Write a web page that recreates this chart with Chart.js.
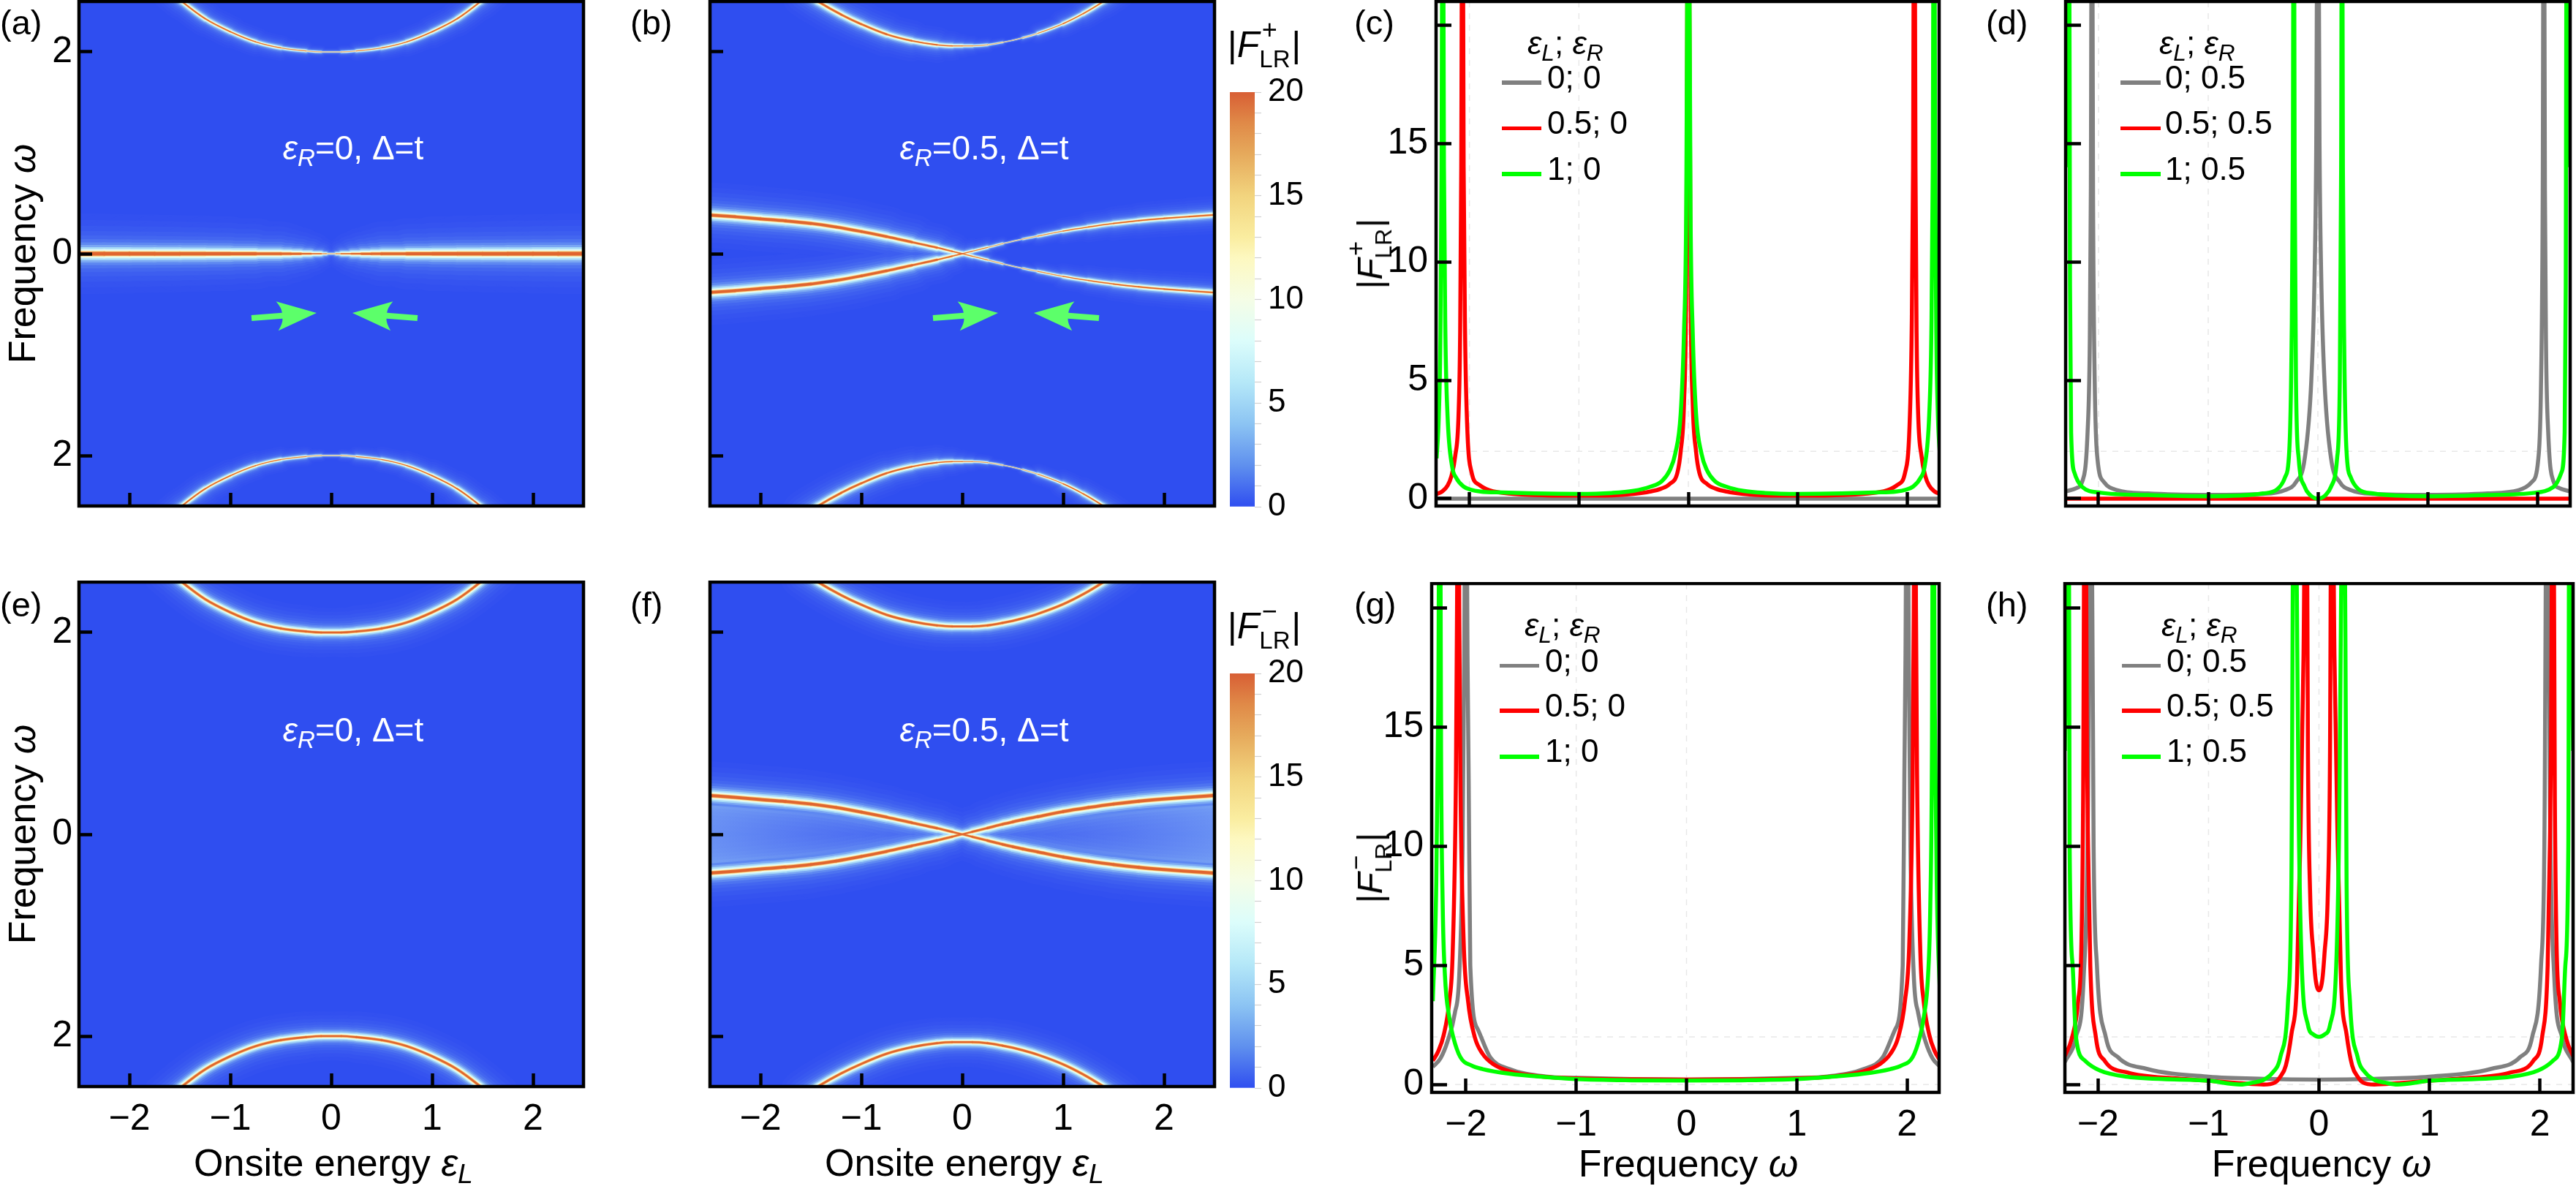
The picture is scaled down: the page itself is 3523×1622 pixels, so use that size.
<!DOCTYPE html>
<html><head><meta charset="utf-8">
<script src="https://cdn.jsdelivr.net/npm/chart.js@4"></script>
<style>
html,body{margin:0;padding:0;background:#fff;width:3523px;height:1622px;overflow:hidden}
body{font-family:"Liberation Sans",Arial,sans-serif;color:#000;position:relative}
canvas{position:absolute}
.t{position:absolute;white-space:nowrap;line-height:1;transform:translate(-50%,-50%)}
.l{position:absolute;white-space:nowrap;line-height:1;transform:translateY(-50%)}
.r{position:absolute;white-space:nowrap;line-height:1;transform:translate(-50%,-50%) rotate(-90deg)}
sub{font-size:.72em;line-height:0;vertical-align:-.28em}
.ss{display:inline-block;position:relative;width:.88em;height:1em;vertical-align:baseline}
.ss b{font-weight:normal;position:absolute;line-height:1}
.ss .u{top:-.15em;font-size:.72em;left:.1em}
.ss .d{top:1.1em;font-size:.66em;left:0}
.sw{position:absolute;height:5.5px}
</style></head><body>
<script>
// ---------- tick lists
const heatXTicks=[-2,-1,0,1,2];
const heatYTicks=[-2,0,2];
const lineXTicks=[-2,-1,0,1,2];
const lineYTicks=[0,5,10,15,20];
const cbTicks=[0,1,2,3,4,5,6,7,8,9,10,11,12,13,14,15,16,17,18,19,20];

// ---------- heat-map ridges (a),(b),(e),(f): energy, frequency, ridge strength
const zeroX=[-2.5,-2.25,-2,-1.75,-1.5,-1.25,-1,-.75,-.5,-.4,-.3,-.2,-.1,-.05,0,.05,.1,.2,.3,.4,.5,.75,1,1.25,1.5,1.75,2,2.25,2.5];
const zeroY=[0,0,0,0,0,0,0,0,0,0,0,0,0,0,0,0,0,0,0,0,0,0,0,0,0,0,0,0,0];
const zeroS=[1,1,.98,.96,.94,.92,.88,.8,.68,.6,.5,.36,.2,.1,.03,.1,.2,.36,.5,.6,.68,.8,.88,.92,.94,.96,.98,1,1];
const arcX=[-1.62,-1.48,-1.25,-1,-.75,-.5,-.25,-.1,0,.1,.25,.5,.75,1,1.25,1.48,1.62];
const arcTop=[2.62,2.5,2.33,2.2,2.1,2.04,2.01,2,2,2,2.01,2.04,2.1,2.2,2.33,2.5,2.62];
const arcBot=[-2.62,-2.5,-2.33,-2.2,-2.1,-2.04,-2.01,-2,-2,-2,-2.01,-2.04,-2.1,-2.2,-2.33,-2.5,-2.62];
const arcSa=[.36,.34,.3,.26,.22,.17,.1,.05,.02,.05,.1,.17,.22,.26,.3,.34,.36];
const arcSe=[.55,.55,.55,.55,.55,.55,.52,.5,.5,.5,.52,.55,.55,.55,.55,.55,.55];

const crossX=[-2.5,-2.25,-2,-1.75,-1.5,-1.25,-1,-.75,-.5,-.25,-.1,0,.1,.25,.4,.5,.6,.75,1,1.25,1.5,1.75,2,2.25,2.5];
const crossDown=[.384,.366,.345,.325,.3,.265,.22,.17,.115,.06,.024,0,-.025,-.062,-.1,-.123,-.145,-.175,-.225,-.265,-.3,-.328,-.35,-.368,-.385];
const crossUp=[-.384,-.366,-.345,-.325,-.3,-.265,-.22,-.17,-.115,-.06,-.024,0,.025,.062,.1,.123,.145,.175,.225,.265,.3,.328,.35,.368,.385];
const crossSb=[.75,.75,.74,.73,.72,.71,.7,.65,.55,.4,.3,.22,.18,.13,.05,.01,.05,.1,.18,.23,.28,.31,.33,.34,.35];
const crossSf=[.8,.8,.8,.8,.78,.76,.74,.7,.65,.58,.5,.4,.5,.58,.65,.68,.7,.72,.74,.76,.78,.8,.8,.8,.8];
const arcBX=[-1.55,-1.43,-1.2,-1,-.75,-.5,-.25,-.1,0,.1,.25,.4,.5,.6,.75,1,1.2,1.4,1.55];
const arcBTop=[2.58,2.5,2.37,2.275,2.175,2.11,2.07,2.06,2.06,2.06,2.07,2.095,2.115,2.14,2.185,2.28,2.38,2.5,2.6];
const arcBBot=[-2.58,-2.5,-2.37,-2.275,-2.175,-2.11,-2.07,-2.06,-2.06,-2.06,-2.07,-2.095,-2.115,-2.14,-2.185,-2.28,-2.38,-2.5,-2.6];
const arcSb=[.5,.5,.48,.46,.42,.36,.28,.2,.16,.12,.08,.03,.01,.04,.1,.2,.26,.3,.32];
const arcSf=[.55,.55,.55,.55,.55,.55,.52,.5,.5,.5,.52,.55,.55,.55,.55,.55,.55,.55,.55];

// ---------- line panels
const zeroLineX=[-2.3,0,2.3];
const zeroLineY=[0,0,0];

const cRedX=[-2.3,-2.25,-2.2,-2.165,-2.13,-2.1,-2.085,-2.075,-2.064,-2.053,-2.04,-2.02,-1.98,-1.91,-1.82,-1.6,-1.3,-1,-.7,-.5,-.35,-.25,-.17,-.1,-.07,-.04,-.02,0,.02,.04,.07,.1,.17,.25,.35,.5,.7,1,1.3,1.6,1.82,1.91,1.98,2.02,2.04,2.053,2.064,2.075,2.085,2.1,2.13,2.165,2.2,2.25,2.3];
const cRedY=[.2,.3,.55,.95,1.8,3.5,7,14,30,14,7,3,1.1,.58,.36,.2,.14,.13,.14,.2,.3,.42,.62,1.1,2,4,9,30,9,4,2,1.1,.62,.42,.3,.2,.14,.13,.14,.2,.36,.58,1.1,3,7,14,30,14,7,3.5,1.8,.95,.55,.3,.2];
const cGreenX=[-2.3,-2.28,-2.265,-2.255,-2.244,-2.233,-2.22,-2.2,-2.16,-2.12,-2.05,-1.99,-1.9,-1.7,-1.4,-1,-.7,-.5,-.35,-.24,-.17,-.12,-.07,-.04,-.02,0,.02,.04,.07,.12,.17,.24,.35,.5,.7,1,1.4,1.7,1.9,1.99,2.05,2.12,2.16,2.2,2.22,2.233,2.244,2.255,2.265,2.28,2.3];
const cGreenY=[1.7,3.5,7,14,30,14,7,3.5,1.4,.87,.5,.38,.3,.26,.22,.2,.24,.33,.5,.75,1.2,1.9,3.6,7,12,30,12,7,3.6,1.9,1.2,.75,.5,.33,.24,.2,.22,.26,.3,.38,.5,.87,1.4,3.5,7,14,30,14,7,3.5,1.7];

const dGrayX=[-2.3,-2.2,-2.15,-2.1,-2.08,-2.07,-2.06,-2.05,-2.035,-2.01,-1.95,-1.83,-1.55,-1,-.5,-.3,-.2,-.12,-.06,-.03,-.015,0,.015,.03,.06,.12,.2,.3,.5,1,1.55,1.83,1.95,2.01,2.035,2.05,2.06,2.07,2.08,2.1,2.15,2.2,2.3];
const dGrayY=[.3,.45,.7,2.8,6.5,13,30,13,5,1.7,.7,.36,.22,.16,.2,.36,.7,1.7,5,9.5,15,30,15,9.5,5,1.7,.7,.36,.2,.16,.22,.36,.7,1.7,5,13,30,13,6.5,2.8,.7,.45,.3];
const dGreenX=[-2.3,-2.285,-2.27,-2.26,-2.25,-2.22,-2.15,-1.98,-1.55,-1,-.5,-.37,-.3,-.26,-.24,-.228,-.22,-.212,-.2,-.175,-.12,-.07,0,.07,.12,.175,.2,.212,.22,.228,.24,.26,.3,.37,.5,1,1.55,1.98,2.15,2.22,2.25,2.26,2.27,2.285,2.3];
const dGreenY=[14,22,30,9,2.8,1.1,.5,.25,.15,.1,.22,.4,.9,2.1,6.5,14,30,14,5,1.7,.5,.15,0,.15,.5,1.7,5,14,30,14,6.5,2.1,.9,.4,.22,.1,.15,.25,.5,1.1,2.8,9,30,22,14];

const gGrayX=[-2.3,-2.23,-2.167,-2.1,-2.06,-2.03,-2.015,-2,-1.985,-1.975,-1.96,-1.89,-1.78,-1.61,-1.26,-1,-.5,0,.5,1,1.26,1.61,1.78,1.89,1.96,1.975,1.985,2,2.015,2.03,2.06,2.1,2.167,2.23,2.3];
const gGrayY=[.74,1.1,1.8,3,4.6,10,18,30,18,13,5,2.3,1.15,.66,.33,.28,.23,.21,.23,.28,.33,.66,1.15,2.3,5,13,18,30,18,10,4.6,3,1.8,1.1,.74];
const gRedX=[-2.3,-2.25,-2.2,-2.15,-2.12,-2.09,-2.08,-2.07,-2.06,-2.05,-2.02,-1.98,-1.92,-1.85,-1.75,-1.6,-1.3,-1,-.5,0,.5,1,1.3,1.6,1.75,1.85,1.92,1.98,2.02,2.05,2.06,2.07,2.08,2.09,2.12,2.15,2.2,2.25,2.3];
const gRedY=[1,1.4,2.1,3.5,5.5,13,20,30,20,13,6,3.5,2,1.3,.85,.55,.33,.26,.22,.21,.22,.26,.33,.55,.85,1.3,2,3.5,6,13,20,30,20,13,5.5,3.5,2.1,1.4,1];
const gGreenX=[-2.3,-2.27,-2.25,-2.236,-2.225,-2.21,-2.19,-2.15,-2.115,-2.05,-1.95,-1.85,-1.6,-1.3,-1,-.5,0,.5,1,1.3,1.6,1.85,1.95,2.05,2.115,2.15,2.19,2.21,2.225,2.236,2.25,2.27,2.3];
const gGreenY=[3.5,8,16,30,14,7.5,4.6,2.8,2,1.15,.8,.65,.45,.32,.23,.18,.17,.18,.23,.32,.45,.65,.8,1.15,2,2.8,4.6,7.5,14,30,16,8,3.5];

const hGrayX=[-2.3,-2.2,-2.13,-2.09,-2.066,-2.04,-2.01,-1.93,-1.82,-1.56,-1,-.5,0,.5,1,1.56,1.82,1.93,2.01,2.04,2.066,2.09,2.13,2.2,2.3];
const hGrayY=[.95,2,4.5,12,30,10,5,2,1.15,.66,.33,.24,.21,.24,.33,.66,1.15,2,5,10,30,12,4.5,2,.95];
const hRedX=[-2.3,-2.24,-2.18,-2.15,-2.135,-2.118,-2.1,-2.09,-2.07,-2.02,-1.94,-1.73,-1.28,-1,-.7,-.5,-.4,-.35,-.3,-.25,-.2,-.17,-.14,-.115,-.1,-.08,-.05,-.03,0,.03,.05,.08,.1,.115,.14,.17,.2,.25,.3,.35,.4,.5,.7,1,1.28,1.73,1.94,2.02,2.07,2.09,2.1,2.118,2.135,2.15,2.18,2.24,2.3];
const hRedY=[1.2,1.9,3.5,6,12,30,14,10,5,2,1,.5,.25,.16,.05,0,.08,.33,.8,2.1,4.3,10,18,30,14,8,5.5,4.4,3.95,4.4,5.5,8,14,30,18,10,4.3,2.1,.8,.33,.08,0,.05,.16,.25,.5,1,2,5,10,14,30,12,6,3.5,1.9,1.2];
const hGreenX=[-2.3,-2.285,-2.267,-2.257,-2.23,-2.2,-2.118,-1.98,-1.74,-1,-.71,-.6,-.5,-.42,-.35,-.28,-.25,-.225,-.18,-.156,-.1,-.05,0,.05,.1,.156,.18,.225,.25,.28,.35,.42,.5,.6,.71,1,1.74,1.98,2.118,2.2,2.23,2.257,2.267,2.285,2.3];
const hGreenY=[14,20,30,10,5,2,1,.58,.33,.16,0,.08,.2,.5,1.15,3.5,8.4,30,10,5,2.5,2.1,2,2.1,2.5,5,10,30,8.4,3.5,1.15,.5,.2,.08,0,.16,.33,.58,1,2,5,10,30,20,14];

// ---------- arrows (frequency and energy values of panels a, b), gridline values, colour bar
const arrowsA=[[-.79,-.638,-.145,-.587],[.855,-.638,.21,-.587]];
const arrowsB=[[-.29,-.638,.355,-.587],[1.355,-.638,.71,-.587]];
const gridXTop=[-2,-1,0]; const gridYTop=[2];
const gridXBot=[-1,0];    const gridYBot=[0,2];
const cbStopValues=[0,2,4,6,8,10,12,13,15,17,18.5,20];
const cbStopColors=['#2f4ef0','#5f90ee','#8cc4f3','#b5e8f8','#dcfdfb','#f5fde6','#fdf8c0','#faeda0','#f2d47e','#e6aa5c','#e08a48','#d85f35'];
const cbRange=[[0,20]];

// ---------- styling of a ridge: outer to inner halo width, colour, growth exponent
const HALO=[[110,'#3250f0',.7],[92,'#3553f0',.7],[76,'#3858f0',.7],[62,'#3d5ef0',.7],[50,'#4366f0',.7],[40,'#4d73f0',.7],[31,'#5e88f1',.7],[24,'#7ba8f3',.7],[18,'#a5d8f7',.7],[13,'#d8f8fa',.7],[9,'#fdf9cf',.8],[6.8,'#f2c070',.9],[5,'#e0652f',1]];
const LENS_AFTER=6;
const FONT='"Liberation Sans",Arial,sans-serif';
Chart.defaults.font.family=FONT;
Chart.defaults.color='#000';

const zip=(x,y)=>x.map((v,i)=>({x:v,y:y[i]}));

function baseScale(o){
  return {
    type:'linear',min:o.min,max:o.max,
    afterBuildTicks:s=>{s.ticks=o.ticks.map(v=>({value:v}));},
    afterFit:s=>{ if(o.axis==='x') s.height=o.size; else s.width=o.size;
      s.paddingTop=0;s.paddingBottom=0;s.paddingLeft=0;s.paddingRight=0; },
    border:{display:false},
    grid:{drawOnChartArea:false,drawTicks:true,tickLength:-o.tick,tickWidth:4.5,tickColor:'#000',z:2},
    ticks:{autoSkip:false,maxRotation:0,minRotation:0,padding:o.tick+o.gap,font:{size:50,family:FONT},color:'#000',callback:o.label}
  };
}
const signed=v=>v<0?'\u2212'+Math.abs(v):''+v;
const none=()=>'';

function makeChart(rect,cfg){
  const ML=104,MB=76,MT=2,MR=8;
  const cv=document.createElement('canvas');
  const w=rect.r-rect.l+ML+MR,h=rect.b-rect.t+MT+MB;
  cv.width=w;cv.height=h;
  cv.style.cssText=`left:${rect.l-ML}px;top:${rect.t-MT}px;width:${w}px;height:${h}px`;
  document.body.appendChild(cv);
  const plugin={id:'panel',
    beforeDraw(c){ if(cfg.bg){const a=c.chartArea;c.ctx.save();c.ctx.fillStyle=cfg.bg;c.ctx.fillRect(a.left,a.top,a.width,a.height);c.ctx.restore();} },
    beforeDatasetsDraw(c){
      if(!cfg.gridX) return;
      const a=c.chartArea,g=c.ctx;g.save();g.strokeStyle='#e8e8e8';g.lineWidth=1.5;g.setLineDash([8,8]);
      cfg.gridX.forEach(v=>{const p=c.scales.x.getPixelForValue(v);g.beginPath();g.moveTo(p,a.top);g.lineTo(p,a.bottom);g.stroke();});
      cfg.gridY.forEach(v=>{const p=c.scales.y.getPixelForValue(v);g.beginPath();g.moveTo(a.left,p);g.lineTo(a.right,p);g.stroke();});
      g.restore();
    },
    afterDatasetsDraw(c){
      const g=c.ctx;
      (cfg.arrows||[]).forEach(ar=>{
        const x0=c.scales.x.getPixelForValue(ar[0]),y0=c.scales.y.getPixelForValue(ar[1]);
        const x1=c.scales.x.getPixelForValue(ar[2]),y1=c.scales.y.getPixelForValue(ar[3]);
        const L=Math.hypot(x1-x0,y1-y0);
        g.save();g.translate(x1,y1);g.rotate(Math.atan2(y1-y0,x1-x0));
        g.fillStyle='#5cff6a';g.beginPath();g.moveTo(0,0);g.lineTo(-54,-20);g.quadraticCurveTo(-47,-10,-47,-4);
        g.lineTo(-L,-4);g.lineTo(-L,4);g.lineTo(-47,4);g.quadraticCurveTo(-47,10,-54,20);g.closePath();g.fill();g.restore();
      });
    },
    afterDraw(c){
      const a=c.chartArea,g=c.ctx;g.save();g.strokeStyle='#000';g.lineWidth=cfg.frame||4.5;
      g.strokeRect(a.left,a.top,a.width,a.height);g.restore();
    }
  };
  new Chart(cv,{type:'line',
    data:{datasets:cfg.datasets},
    plugins:[plugin],
    options:{responsive:false,animation:false,devicePixelRatio:1,
      layout:{padding:{top:MT,right:MR,left:0,bottom:0}},
      plugins:{legend:{display:false},tooltip:{enabled:false}},
      elements:{point:{radius:0}},
      scales:{
        x:baseScale({axis:'x',size:MB,min:cfg.xr[0],max:cfg.xr[1],ticks:cfg.xt,tick:cfg.tx,gap:cfg.gx,label:cfg.xl}),
        y:baseScale({axis:'y',size:ML,min:cfg.yr[0],max:cfg.yr[1],ticks:cfg.yt,tick:cfg.ty,gap:cfg.gy,label:cfg.yl})
      }}});
}

// Chart.js paints dataset 0 last, so halos are listed inner-first
function heatSets(ridges,lens){
  const out=[];
  HALO.slice().reverse().forEach(([wd,col,ex],idx)=>{
    if(lens && idx===LENS_AFTER+1){
      // pale area enclosed by the two crossing branches: above the dim halos, beneath the bright ones
      out.push({data:zip(lens[0],lens[1]),borderWidth:0,pointRadius:0,fill:'+1',cubicInterpolationMode:'monotone',
        backgroundColor:ctx=>{
          const c=ctx.chart,a=c.chartArea; if(!a) return 'rgba(130,170,245,.3)';
          const g=c.ctx.createLinearGradient(a.left,0,a.right,0);
          g.addColorStop(0,'rgba(140,185,246,.62)');g.addColorStop(.3,'rgba(130,170,245,.3)');
          g.addColorStop(.47,'rgba(130,170,245,.05)');g.addColorStop(.53,'rgba(130,170,245,.05)');
          g.addColorStop(.7,'rgba(130,170,245,.3)');g.addColorStop(1,'rgba(140,185,246,.62)');
          return g;
        }});
      out.push({data:zip(lens[0],lens[2]),borderWidth:0,pointRadius:0,fill:false,cubicInterpolationMode:'monotone'});
    }
    ridges.forEach(([x,y,s])=>{
      out.push({data:zip(x,y),borderColor:col,borderWidth:wd,pointRadius:0,
        clip:{left:0,top:0,right:0,bottom:0},
        cubicInterpolationMode:'monotone',borderCapStyle:'round',borderJoinStyle:'round',
        segment:{borderWidth:ctx=>{
          const a=s[ctx.p0DataIndex],b=s[ctx.p1DataIndex];
          return Math.max(.35,wd*Math.pow((a+b)/2,ex));
        }}});
    });
  });
  return out;
}
function lineSet(x,y,col){
  return {data:zip(x,y),borderColor:col,borderWidth:5.5,pointRadius:0,clip:0,cubicInterpolationMode:'monotone'};
}
const GRAY='#808080',RED='#ff0000',GREEN='#00ff00';

const heat=(rect,ridges,xl,yl,arrows,lens)=>makeChart(rect,{bg:'#2f4ef0',datasets:heatSets(ridges,lens),
  xr:[-2.5,2.5],yr:[-2.5,2.5],xt:heatXTicks,yt:heatYTicks,tx:18,ty:18,gx:15,gy:9,xl,yl,arrows});
const line=(rect,sets,xr,yr,xl,yl,gridX,gridY)=>makeChart(rect,{datasets:sets.slice().reverse(),xr,yr,xt:lineXTicks,yt:lineYTicks,
  tx:19,ty:21,gx:15,gy:11,xl,yl,gridX,gridY});
const absLab=v=>''+Math.abs(v);
const yLineLab=v=>v===20?'':''+v;

heat({l:108,r:798,t:2,b:692},[[zeroX,zeroY,zeroS],[arcX,arcTop,arcSa],[arcX,arcBot,arcSa]],none,absLab,arrowsA);
heat({l:971,r:1661,t:2,b:692},[[crossX,crossDown,crossSb],[crossX,crossUp,crossSb],[arcBX,arcBTop,arcSb],[arcBX,arcBBot,arcSb]],none,none,arrowsB);
heat({l:108,r:798,t:796,b:1486},[[arcX,arcTop,arcSe],[arcX,arcBot,arcSe]],signed,absLab);
heat({l:971,r:1661,t:796,b:1486},[[crossX,crossDown,crossSf],[crossX,crossUp,crossSf],[arcBX,arcBTop,arcSf],[arcBX,arcBBot,arcSf]],signed,none,undefined,[crossX,crossDown,crossUp]);

line({l:1964,r:2652,t:2,b:692},[lineSet(zeroLineX,zeroLineY,GRAY),lineSet(cRedX,cRedY,RED),lineSet(cGreenX,cGreenY,GREEN)],[-2.305,2.291],[-.31,21],none,yLineLab,gridXTop,gridYTop);
line({l:2825,r:3515,t:2,b:692},[lineSet(dGrayX,dGrayY,GRAY),lineSet(zeroLineX,zeroLineY,RED),lineSet(dGreenX,dGreenY,GREEN)],[-2.3,2.3],[-.31,21],none,none,gridXTop,gridYTop);
line({l:1958,r:2652,t:798,b:1494},[lineSet(gGrayX,gGrayY,GRAY),lineSet(gRedX,gRedY,RED),lineSet(gGreenX,gGreenY,GREEN)],[-2.31,2.29],[-.33,21.03],signed,yLineLab,gridXBot,gridYBot);
line({l:2824,r:3519,t:798,b:1494},[lineSet(hGrayX,hGrayY,GRAY),lineSet(hRedX,hRedY,RED),lineSet(hGreenX,hGreenY,GREEN)],[-2.3,2.3],[-.33,21.03],signed,none,gridXBot,gridYBot);

// ---------- colour bars
function colorBar(t,b){
  const l=1682,r=1716,ML=4,MR=90,MT=30,MB=30;
  const cv=document.createElement('canvas');
  const w=r-l+ML+MR,h=b-t+MT+MB;
  cv.width=w;cv.height=h;
  cv.style.cssText=`left:${l-ML}px;top:${t-MT}px;width:${w}px;height:${h}px`;
  document.body.appendChild(cv);
  new Chart(cv,{type:'bar',
    data:{labels:[''],datasets:[{data:cbRange,barPercentage:1,categoryPercentage:1,
      backgroundColor:ctx=>{
        const c=ctx.chart,a=c.chartArea; if(!a) return '#2f4ef0';
        const g=c.ctx.createLinearGradient(0,a.bottom,0,a.top);
        cbStopValues.forEach((v,i)=>g.addColorStop(v/20,cbStopColors[i]));
        return g;
      }}]},
    options:{responsive:false,animation:false,devicePixelRatio:1,
      layout:{padding:{top:MT,bottom:MB,left:ML,right:0}},
      plugins:{legend:{display:false},tooltip:{enabled:false}},
      scales:{
        x:{display:false},
        y:{position:'right',min:0,max:20,
          afterBuildTicks:s=>{s.ticks=cbTicks.map(v=>({value:v}));},
          afterFit:s=>{s.width=MR;s.paddingTop=0;s.paddingBottom=0;},
          border:{display:false},
          grid:{drawOnChartArea:false,tickLength:9,tickWidth:1.2,tickColor:'#d0d0d0'},
          ticks:{autoSkip:false,padding:9,maxRotation:0,font:{size:44,family:FONT},color:'#000',
            callback:v=>v%5===0?''+v:''}}
      }}});
}
colorBar(126,693);
colorBar(921,1488);

// ---------- text
function T(cls,x,y,size,html,color){
  const d=document.createElement('div');d.className=cls;
  d.style.cssText=`left:${x}px;top:${y}px;font-size:${size}px;`+(color?`color:${color};`:'');
  d.innerHTML=html;document.body.appendChild(d);
}
const EPSR='<i>\u03B5<sub>R</sub></i>',EPSL='<i>\u03B5<sub>L</sub></i>';
const FP='|<i>F</i><span class="ss"><b class="u">+</b><b class="d">LR</b></span>|';
const FM='|<i>F</i><span class="ss"><b class="u">\u2212</b><b class="d">LR</b></span>|';
[['(a)',0,30],['(b)',862,30],['(c)',1852,30],['(d)',2716,30],['(e)',0,826],['(f)',862,826],['(g)',1852,826],['(h)',2716,826]]
  .forEach(p=>T('l',p[1],p[2],47,p[0]));
T('t',483,202,46,EPSR+'=0, \u0394=t','#fff');
T('t',1346,202,46,EPSR+'=0.5, \u0394=t','#fff');
T('t',483,998,46,EPSR+'=0, \u0394=t','#fff');
T('t',1346,998,46,EPSR+'=0.5, \u0394=t','#fff');
T('r',30,347,52,'Frequency <i>\u03C9</i>');
T('r',30,1141,52,'Frequency <i>\u03C9</i>');
T('t',456,1590,52,'Onsite energy '+EPSL);
T('t',1319,1590,52,'Onsite energy '+EPSL);
T('t',2309,1591,52,'Frequency <i>\u03C9</i>');
T('t',3175,1591,52,'Frequency <i>\u03C9</i>');
T('t',1729,57,50,FP);
T('t',1729,852,50,FM);
T('r',1870,347,48,FP);
T('r',1870,1187,48,FM);
function legend(tx,ty,sx,sxe,lx,rows,swY,txtY){
  T('l',tx,ty,44,EPSL+'; '+EPSR);
  rows.forEach((r,i)=>{
    const s=document.createElement('div');s.className='sw';
    s.style.cssText=`left:${sx}px;width:${sxe-sx}px;top:${swY[i]-2.75}px;background:${r[1]}`;
    document.body.appendChild(s);
    T('l',lx,txtY[i],44,r[0]);
  });
}
legend(2089,59,2054,2108,2116,[['0; 0',GRAY],['0.5; 0',RED],['1; 0',GREEN]],[113,175.5,238],[106,167.5,231]);
legend(2953,59,2900,2955,2961,[['0; 0.5',GRAY],['0.5; 0.5',RED],['1; 0.5',GREEN]],[113,175.5,238],[106,167.5,231]);
legend(2085,855,2051,2105,2113,[['0; 0',GRAY],['0.5; 0',RED],['1; 0',GREEN]],[910.5,972,1035],[903.5,965,1027]);
legend(2956,855,2902,2955,2963,[['0; 0.5',GRAY],['0.5; 0.5',RED],['1; 0.5',GREEN]],[910.5,972,1035],[903.5,965,1027]);
</script>
</body></html>
